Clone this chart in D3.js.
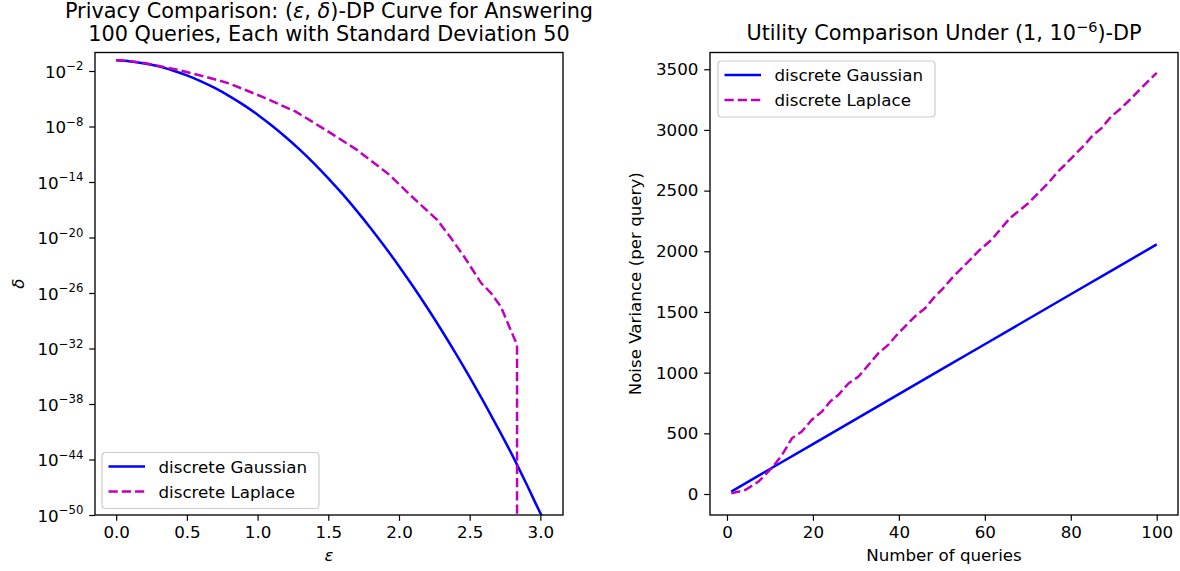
<!DOCTYPE html>
<html><head><meta charset="utf-8">
<script src="https://cdn.jsdelivr.net/npm/d3@7/dist/d3.min.js"></script>
<style>
body{margin:0;background:#fff;}
svg text{font-family:"DejaVu Sans",sans-serif;fill:#000;}
</style></head><body>
<svg id="c" width="1180" height="571"></svg>
<script>
// ---------- data ----------
// Left panel: epsilon vs log10(delta)
const gaussEps = [0,0.1,0.2,0.3,0.4,0.5,0.6,0.7,0.8,0.9,1.0,1.1,1.2,1.3,1.4,1.5,1.6,1.7,1.8,1.9,2.0,2.1,2.2,2.3,2.4,2.5,2.6,2.7,2.8,2.9,3.0,3.01];
const gaussLog10Delta = [-0.85,-0.97,-1.2,-1.5,-1.94,-2.47,-3.12,-3.86,-4.71,-5.66,-6.72,-7.89,-9.16,-10.53,-12.01,-13.6,-15.29,-17.09,-18.99,-21.0,-23.1,-25.3,-27.6,-30.0,-32.5,-35.1,-37.8,-40.6,-43.5,-46.6,-49.8,-50.1];
const laplaceEps = [0,0.1,0.2,0.44,0.63,0.8,1.03,1.27,1.5,1.7,1.93,2.1,2.27,2.36,2.46,2.58,2.65,2.72,2.79,2.835,2.835];
const laplaceLog10Delta = [-0.85,-0.95,-1.13,-1.89,-2.61,-3.35,-4.77,-6.39,-8.55,-10.5,-13.2,-15.7,-18.1,-19.9,-22.05,-24.9,-26.0,-27.45,-30.0,-31.6,-60];
const deltaTickExps = [-2,-8,-14,-20,-26,-32,-38,-44,-50];
const epsTicks = [0,0.5,1.0,1.5,2.0,2.5,3.0];

// Right panel: number of queries vs noise variance
const gaussQueries = [1,10,20,30,40,50,60,70,80,90,100];
const gaussVariance = [20,206,411,617,823,1029,1234,1440,1646,1851,2057];
const laplaceQueries = [1,4.25,7.35,10.4,12.8,15.1,17.4,19.7,22.1,24.0,25.9,28.3,30.6,32.9,35.2,37.5,39.5,41.8,44.1,46.1,48.0,50.3,52.3,54.6,56.9,58.8,61.5,63.5,65.8,67.7,70.1,72.4,74.7,77.0,78.6,80.9,83.2,85.2,87.1,89.4,91.7,94.1,95.6,97.9,100];
const laplaceVariance = [5,33,102,212,321,459,514,610,679,761,816,912,967,1063,1159,1228,1310,1393,1475,1530,1612,1695,1777,1860,1942,2011,2093,2176,2272,2327,2395,2478,2560,2656,2711,2794,2876,2959,3013,3110,3178,3261,3316,3398,3470];
const queryTicks = [0,20,40,60,80,100];
const varianceTicks = [0,500,1000,1500,2000,2500,3000,3500];

const seriesNames = ["discrete Gaussian","discrete Laplace"];
const colors = {gauss:"#0000ff", laplace:"#bf00bf"};

// ---------- layout ----------
const svg = d3.select("#c");
const L = {x0:95, x1:563, y0:52.5, y1:515};
const R = {x0:710, x1:1178, y0:52.5, y1:515};
const FS = 16.7, TICK = 5.8, PAD = 5.8, LW = 2.5, DASH = "9.25,4";

const xL = d3.scaleLinear().domain([-0.15,3.16]).range([L.x0,L.x1]);
const yL = d3.scaleLog().domain([1e-50,1]).range([L.y1,L.y0]);
const xR = d3.scaleLinear().domain([-3.95,104.95]).range([R.x0,R.x1]);
const yR = d3.scaleLinear().domain([-173,3638]).range([R.y1,R.y0]);

const defs = svg.append("defs");
function clip(id, A){
  defs.append("clipPath").attr("id",id).append("rect")
    .attr("x",A.x0).attr("y",A.y0).attr("width",A.x1-A.x0).attr("height",A.y1-A.y0);
}
clip("clipL",L); clip("clipR",R);

// ---------- lines ----------
const gL = svg.append("g").attr("clip-path","url(#clipL)");
const lineL = d3.line().curve(d3.curveMonotoneX).x(d=>xL(d[0])).y(d=>yL(Math.pow(10,d[1])));
const lineLLinear = d3.line().x(d=>xL(d[0])).y(d=>yL(Math.pow(10,d[1])));
gL.append("path").datum(gaussEps.map((e,i)=>[e,gaussLog10Delta[i]]))
  .attr("d",lineL).attr("fill","none").attr("stroke",colors.gauss).attr("stroke-width",LW);
gL.append("path").datum(laplaceEps.map((e,i)=>[e,laplaceLog10Delta[i]]))
  .attr("d",lineLLinear).attr("fill","none").attr("stroke",colors.laplace).attr("stroke-width",LW)
  .attr("stroke-dasharray",DASH);

const gR = svg.append("g").attr("clip-path","url(#clipR)");
const lineR = d3.line().x(d=>xR(d[0])).y(d=>yR(d[1]));
gR.append("path").datum(gaussQueries.map((k,i)=>[k,gaussVariance[i]]))
  .attr("d",lineR).attr("fill","none").attr("stroke",colors.gauss).attr("stroke-width",LW);
gR.append("path").datum(laplaceQueries.map((k,i)=>[k,laplaceVariance[i]]))
  .attr("d",lineR).attr("fill","none").attr("stroke",colors.laplace).attr("stroke-width",LW)
  .attr("stroke-dasharray",DASH);

// ---------- axes ----------
function styleAxis(g){
  g.select(".domain").remove();
  g.selectAll(".tick line").attr("stroke","#000").attr("stroke-width",1.2);
  g.selectAll(".tick text").attr("font-size",FS).attr("font-family","DejaVu Sans").attr("fill","#000");
}
svg.append("g").attr("transform",`translate(0,${L.y1})`)
  .call(d3.axisBottom(xL).tickValues(epsTicks).tickFormat(d3.format(".1f")).tickSize(TICK).tickPadding(PAD))
  .call(styleAxis);
const yAxL = svg.append("g").attr("transform",`translate(${L.x0},0)`)
  .call(d3.axisLeft(yL).tickValues(deltaTickExps.map(e=>Math.pow(10,e))).tickSize(TICK).tickPadding(PAD).tickFormat(()=>""))
  .call(styleAxis);
yAxL.selectAll(".tick text").each(function(d){
  const t = d3.select(this);
  const e = Math.round(Math.log10(d));
  t.text(null).attr("dy",null).attr("y",6);
  t.append("tspan").text("10");
  t.append("tspan").attr("font-size",FS*0.7).attr("dy",-7.5).text("\u2212"+Math.abs(e));
});
svg.append("g").attr("transform",`translate(0,${R.y1})`)
  .call(d3.axisBottom(xR).tickValues(queryTicks).tickFormat(d3.format("d")).tickSize(TICK).tickPadding(PAD))
  .call(styleAxis);
svg.append("g").attr("transform",`translate(${R.x0},0)`)
  .call(d3.axisLeft(yR).tickValues(varianceTicks).tickFormat(d3.format("d")).tickSize(TICK).tickPadding(PAD))
  .call(styleAxis);

// frames
[L,R].forEach(A=>{
  svg.append("rect").attr("x",A.x0).attr("y",A.y0).attr("width",A.x1-A.x0).attr("height",A.y1-A.y0)
    .attr("fill","none").attr("stroke","#000").attr("stroke-width",1.33);
});

// ---------- labels ----------
svg.append("text").attr("x",(L.x0+L.x1)/2).attr("y",561).attr("text-anchor","middle")
  .attr("font-size",FS).attr("font-style","italic").text("\u03b5");
svg.append("text").attr("transform",`translate(24,${(L.y0+L.y1)/2}) rotate(-90)`).attr("text-anchor","middle")
  .attr("font-size",FS).attr("font-style","italic").text("\u03b4");
svg.append("text").attr("x",(R.x0+R.x1)/2).attr("y",561).attr("text-anchor","middle")
  .attr("font-size",FS).text("Number of queries");
svg.append("text").attr("transform",`translate(641,${(R.y0+R.y1)/2}) rotate(-90)`).attr("text-anchor","middle")
  .attr("font-size",FS).text("Noise Variance (per query)");

// titles
const TFS = 20.8;
const t1 = svg.append("text").attr("x",(L.x0+L.x1)/2).attr("y",18).attr("text-anchor","middle").attr("font-size",TFS);
t1.append("tspan").text("Privacy Comparison: (");
t1.append("tspan").attr("font-style","italic").text("\u03b5");
t1.append("tspan").text(", ");
t1.append("tspan").attr("font-style","italic").text("\u03b4");
t1.append("tspan").text(")-DP Curve for Answering");
svg.append("text").attr("x",(L.x0+L.x1)/2).attr("y",41).attr("text-anchor","middle").attr("font-size",TFS)
  .text("100 Queries, Each with Standard Deviation 50");
const t2 = svg.append("text").attr("x",(R.x0+R.x1)/2).attr("y",40).attr("text-anchor","middle").attr("font-size",TFS);
t2.append("tspan").text("Utility Comparison Under (1, 10");
t2.append("tspan").attr("font-size",TFS*0.7).attr("dy",-8).text("\u22126");
t2.append("tspan").attr("dy",8).text(")-DP");

// ---------- legends ----------
function legend(x, y){
  const g = svg.append("g").attr("transform",`translate(${x},${y})`);
  g.append("rect").attr("width",217).attr("height",56).attr("rx",3.5)
    .attr("fill","#fff").attr("fill-opacity",0.8).attr("stroke","#cccccc").attr("stroke-width",1.2);
  const rows = [{c:colors.gauss,d:null},{c:colors.laplace,d:DASH}];
  rows.forEach((r,i)=>{
    const yy = 14 + i*25;
    g.append("line").attr("x1",6.5).attr("x2",43).attr("y1",yy).attr("y2",yy)
      .attr("stroke",r.c).attr("stroke-width",LW).attr("stroke-dasharray",r.d);
    g.append("text").attr("x",56.5).attr("y",yy+6).attr("font-size",FS).text(seriesNames[i]);
  });
}
legend(102, 452.5);
legend(718, 61);
</script>
</body></html>
